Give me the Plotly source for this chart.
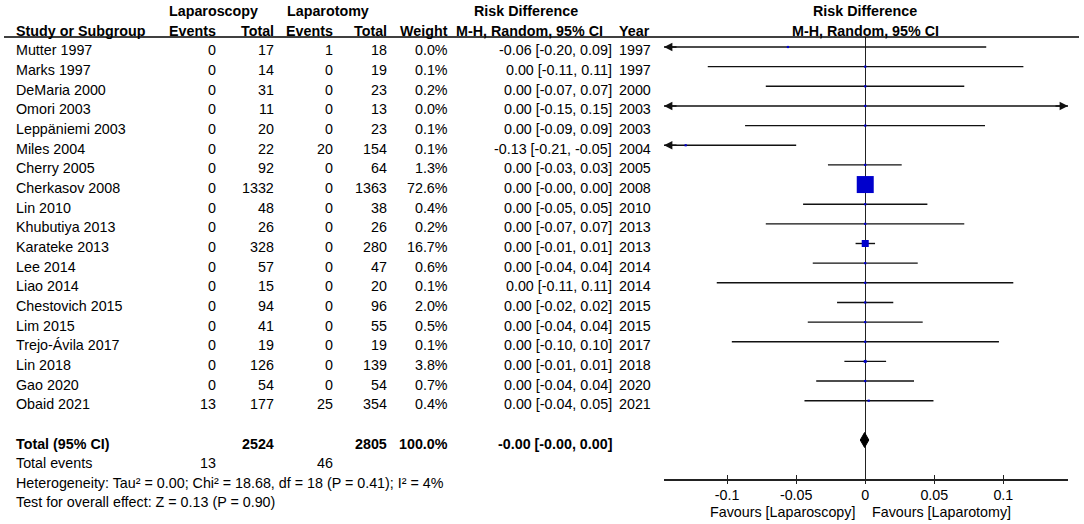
import numpy as np
import plotly.graph_objects as go

# ---------------- data ----------------
studies = ["Mutter 1997", "Marks 1997", "DeMaria 2000", "Omori 2003", "Leppäniemi 2003",
           "Miles 2004", "Cherry 2005", "Cherkasov 2008", "Lin 2010", "Khubutiya 2013",
           "Karateke 2013", "Lee 2014", "Liao 2014", "Chestovich 2015", "Lim 2015",
           "Trejo-Ávila 2017", "Lin 2018", "Gao 2020", "Obaid 2021"]
lap_events = [0, 0, 0, 0, 0, 0, 0, 0, 0, 0, 0, 0, 0, 0, 0, 0, 0, 0, 13]
lap_total = [17, 14, 31, 11, 20, 22, 92, 1332, 48, 26, 328, 57, 15, 94, 41, 19, 126, 54, 177]
lapt_events = [1, 0, 0, 0, 0, 20, 0, 0, 0, 0, 0, 0, 0, 0, 0, 0, 0, 0, 25]
lapt_total = [18, 19, 23, 13, 23, 154, 64, 1363, 38, 26, 280, 47, 20, 96, 55, 19, 139, 54, 354]
weights = [0.0, 0.1, 0.2, 0.0, 0.1, 0.1, 1.3, 72.6, 0.4, 0.2, 16.7, 0.6, 0.1, 2.0, 0.5, 0.1, 3.8, 0.7, 0.4]
ci_text = ["-0.06 [-0.20, 0.09]", "0.00 [-0.11, 0.11]", "0.00 [-0.07, 0.07]", "0.00 [-0.15, 0.15]",
           "0.00 [-0.09, 0.09]", "-0.13 [-0.21, -0.05]", "0.00 [-0.03, 0.03]", "0.00 [-0.00, 0.00]",
           "0.00 [-0.05, 0.05]", "0.00 [-0.07, 0.07]", "0.00 [-0.01, 0.01]", "0.00 [-0.04, 0.04]",
           "0.00 [-0.11, 0.11]", "0.00 [-0.02, 0.02]", "0.00 [-0.04, 0.04]", "0.00 [-0.10, 0.10]",
           "0.00 [-0.01, 0.01]", "0.00 [-0.04, 0.04]", "0.00 [-0.04, 0.05]"]
years = [1997, 1997, 2000, 2003, 2003, 2004, 2005, 2008, 2010, 2013, 2013, 2014, 2014,
         2015, 2015, 2017, 2018, 2020, 2021]
# plotted estimates and CI limits
rd = [-0.056, 0.0, 0.0, 0.0, 0.0, -0.130, 0.0, 0.0, 0.0, 0.0, 0.0, 0.0, 0.0, 0.0, 0.0, 0.0, 0.0, 0.0, 0.0025]
rd_lo = [-0.20, -0.114, -0.072, -0.15, -0.087, -0.21, -0.027, -0.002, -0.045, -0.072, -0.007,
         -0.038, -0.1075, -0.0204, -0.0416, -0.0966, -0.0151, -0.0355, -0.044]
rd_hi = [0.0876, 0.1145, 0.0717, 0.15, 0.0867, -0.050, 0.0264, 0.002, 0.045, 0.0717, 0.0071,
         0.038, 0.1072, 0.0203, 0.0416, 0.0968, 0.0151, 0.0353, 0.0494]

total_lap = 2524
total_lapt = 2805
total_weight = "100.0%"
total_ci_text = "-0.00 [-0.00, 0.00]"
total_rd, total_lo, total_hi = -0.0005, -0.0036, 0.0026
events_lap_total = 13
events_lapt_total = 46
heterogeneity = "Heterogeneity: Tau² = 0.00; Chi² = 18.68, df = 18 (P = 0.41); I² = 4%"
overall = "Test for overall effect: Z = 0.13 (P = 0.90)"

tick_vals = [-0.1, -0.05, 0, 0.05, 0.1]
tick_text = ["-0.1", "-0.05", "0", "0.05", "0.1"]
x_range = [-0.1457, 0.1468]

# ---------------- layout constants ----------------
W, H = 1084, 524
ROW0, ROWH = 47.0, 19.65        # pixel of row 0, row height
TOP_LINE, AXIS_Y = 37.0, 479.0  # header line and x-axis line (pixels)
FX0, FX1 = 664.0, 1068.0        # forest panel horizontal extent (pixels)
FONT = "Liberation Sans, Arial, sans-serif"
FS = 14.3
BLUE = "#0000CC"
TXT_SHIFT = -3.5
PAD = 2.5   # annotation box padding compensation


def py(row):
    """row index -> paper y"""
    return 1 - (ROW0 + ROWH * row) / H


def px(x):
    return x / W


fig = go.Figure()

n = len(studies)
rows = list(range(n))

# CI lines (clipped to axis range)
lx, ly = [], []
for i in rows:
    a = max(rd_lo[i], x_range[0])
    b = min(rd_hi[i], x_range[1])
    lx += [a, b, None]
    ly += [i, i, None]
fig.add_trace(go.Scatter(x=lx, y=ly, mode="lines", line=dict(color="#111111", width=1.4),
                         hoverinfo="skip", showlegend=False))

# squares (side grows with study weight)
wmax = max(weights)
sizes = [max(2.2, 17.0 * (w / wmax) ** 0.6) for w in weights]
fig.add_trace(go.Scatter(x=rd, y=rows, mode="markers",
                         marker=dict(symbol="square", size=sizes, color=BLUE, opacity=1,
                                     line=dict(width=0)),
                         hoverinfo="skip", showlegend=False))

# total diamond
TOTAL_ROW = 20
dh = 0.38
fig.add_trace(go.Scatter(x=[total_lo, total_rd, total_hi, total_rd, total_lo],
                         y=[TOTAL_ROW, TOTAL_ROW - dh, TOTAL_ROW, TOTAL_ROW + dh, TOTAL_ROW],
                         mode="lines", fill="toself", fillcolor="black",
                         line=dict(color="black", width=1), hoverinfo="skip", showlegend=False))

# invisible trace on the overlay axis used for the upper half of the tick marks
fig.add_trace(go.Scatter(x=[None], y=[None], xaxis="x2", yaxis="y", mode="markers",
                         hoverinfo="skip", showlegend=False))

annotations = []

# arrows for CIs beyond the axis range
for i in rows:
    if rd_lo[i] < x_range[0]:
        annotations.append(dict(x=x_range[0], y=i, xref="x", yref="y", text="", showarrow=True,
                                ax=14, ay=0, arrowhead=2, arrowsize=1.2, arrowwidth=1.4,
                                arrowcolor="#111111", standoff=0))
    if rd_hi[i] > x_range[1]:
        annotations.append(dict(x=x_range[1], y=i, xref="x", yref="y", text="", showarrow=True,
                                ax=-14, ay=0, arrowhead=2, arrowsize=1.2, arrowwidth=1.4,
                                arrowcolor="#111111", standoff=0))


def txt(s, xpix, row, anchor="left", bold=False, xref="paper", xval=None, yshift=TXT_SHIFT):
    t = f"<b>{s}</b>" if bold else str(s)
    xs = -PAD if anchor == "left" else (PAD if anchor == "right" else 0)
    annotations.append(dict(
        x=px(xpix) if xval is None else xval, xref=xref, xshift=xs,
        y=py(row), yref="paper", yshift=yshift,
        text=t, showarrow=False, xanchor=anchor, yanchor="middle",
        font=dict(family=FONT, size=FS, color="black")))


# column positions (pixels)
C_STUDY = 16
C_EV1, C_TOT1, C_EV2, C_TOT2, C_W, C_CI, C_YEAR = 215, 273, 332, 386, 447, 611, 619

# headers
txt("Laparoscopy", 169, -2, bold=True)
txt("Laparotomy", 287, -2, bold=True)
txt("Risk Difference", 525.5, -2, anchor="center", bold=True)
txt("Risk Difference", None, -2, anchor="center", bold=True, xref="x", xval=0)
txt("Study or Subgroup", C_STUDY, -1, bold=True)
txt("Events", C_EV1, -1, anchor="right", bold=True)
txt("Total", C_TOT1, -1, anchor="right", bold=True)
txt("Events", C_EV2, -1, anchor="right", bold=True)
txt("Total", C_TOT2, -1, anchor="right", bold=True)
txt("Weight", C_W, -1, anchor="right", bold=True)
txt("M-H, Random, 95% CI", 529.5, -1, anchor="center", bold=True)
txt("Year", C_YEAR, -1, bold=True)
txt("M-H, Random, 95% CI", None, -1, anchor="center", bold=True, xref="x", xval=0)

# study rows
for i in rows:
    txt(studies[i], C_STUDY, i)
    txt(lap_events[i], C_EV1, i, anchor="right")
    txt(lap_total[i], C_TOT1, i, anchor="right")
    txt(lapt_events[i], C_EV2, i, anchor="right")
    txt(lapt_total[i], C_TOT2, i, anchor="right")
    txt(f"{weights[i]:.1f}%", C_W, i, anchor="right")
    txt(ci_text[i], C_CI, i, anchor="right")
    txt(years[i], C_YEAR, i)

# totals
txt("Total (95% CI)", C_STUDY, TOTAL_ROW, bold=True)
txt(total_lap, C_TOT1, TOTAL_ROW, anchor="right", bold=True)
txt(total_lapt, C_TOT2, TOTAL_ROW, anchor="right", bold=True)
txt(total_weight, C_W, TOTAL_ROW, anchor="right", bold=True)
txt(total_ci_text, C_CI, TOTAL_ROW, anchor="right", bold=True)
txt("Total events", C_STUDY, 21)
txt(events_lap_total, C_EV1, 21, anchor="right")
txt(events_lapt_total, C_EV2, 21, anchor="right")
txt(heterogeneity, C_STUDY, 22)
txt(overall, C_STUDY, 23)

# favours labels
annotations.append(dict(x=0, xref="x", xshift=-8, y=py(23.5), yref="paper", yshift=TXT_SHIFT,
                        text="Favours [Laparoscopy]", showarrow=False, xanchor="right",
                        yanchor="middle", font=dict(family=FONT, size=FS, color="black")))
annotations.append(dict(x=0, xref="x", xshift=5, y=py(23.5), yref="paper", yshift=TXT_SHIFT,
                        text="Favours [Laparotomy]", showarrow=False, xanchor="left",
                        yanchor="middle", font=dict(family=FONT, size=FS, color="black")))

# header rule
shapes = [dict(type="line", xref="paper", yref="paper", x0=px(4), x1=px(1079),
               y0=1 - TOP_LINE / H, y1=1 - TOP_LINE / H, line=dict(color="black", width=1.5))]

fig.update_layout(
    width=W, height=H,
    margin=dict(l=0, r=0, t=0, b=0),
    paper_bgcolor="white", plot_bgcolor="white",
    showlegend=False,
    font=dict(family=FONT, size=FS, color="black"),
    xaxis=dict(domain=[px(FX0), px(FX1)], range=x_range, showgrid=False,
               zeroline=True, zerolinecolor="#222222", zerolinewidth=1.4,
               showline=True, linecolor="#222222", linewidth=1.6,
               ticks="outside", ticklen=3, tickwidth=1.3, tickcolor="#222222",
               tickvals=tick_vals, ticktext=tick_text, ticklabelstandoff=-1,
               tickfont=dict(family=FONT, size=FS, color="black"), fixedrange=True),
    xaxis2=dict(domain=[px(FX0), px(FX1)], range=x_range, overlaying="x", anchor="y",
                side="bottom", showgrid=False, zeroline=False, showline=False,
                ticks="inside", ticklen=4, tickwidth=1.3, tickcolor="#222222",
                tickvals=tick_vals, showticklabels=False, fixedrange=True),
    yaxis=dict(domain=[1 - AXIS_Y / H, 1 - TOP_LINE / H],
               range=[(AXIS_Y - ROW0) / ROWH, (TOP_LINE - ROW0) / ROWH],
               visible=False, showgrid=False, zeroline=False, fixedrange=True),
    annotations=annotations,
    shapes=shapes,
)

fig.write_html("out.html", config={"displayModeBar": False},
               post_script="document.body.style.margin='0px';document.body.style.overflow='hidden';")
